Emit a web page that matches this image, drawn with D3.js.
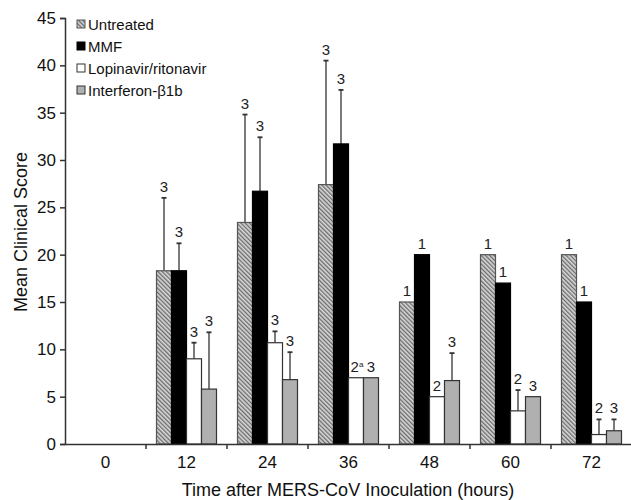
<!DOCTYPE html>
<html><head><meta charset="utf-8">
<script src="https://cdn.jsdelivr.net/npm/d3@7"></script>
<style>
body{margin:0;background:#fff;}
svg{display:block;font-family:"Liberation Sans",Arial,sans-serif;}
</style></head>
<body>
<svg id="chart" width="631" height="500"></svg>
<script>
const categories = ["0","12","24","36","48","60","72"];
const seriesNames = ["Untreated","MMF","Lopinavir/ritonavir","Interferon-β1b"];
const untreated = [null, 18.3, 23.4, 27.4, 15, 20, 20];
const untreatedErr = [null, 7.7, 11.4, 13.1, null, null, null];
const untreatedN = [null, "3", "3", "3", "1", "1", "1"];
const mmf = [null, 18.3, 26.7, 31.7, 20, 17, 15];
const mmfErr = [null, 2.9, 5.7, 5.7, null, null, null];
const mmfN = [null, "3", "3", "3", "1", "1", "1"];
const lopinavir = [null, 9.0, 10.7, 7.0, 5.0, 3.5, 1.0];
const lopinavirErr = [null, 1.7, 1.2, null, null, 2.2, 1.6];
const lopinavirN = [null, "3", "3", "2a", "2", "2", "2"];
const interferon = [null, 5.8, 6.8, 7.0, 6.7, 5.0, 1.4];
const interferonErr = [null, 6.0, 2.9, null, 2.9, null, 1.2];
const interferonN = [null, "3", "3", "3", "3", "3", "3"];
const yTicks = [0,5,10,15,20,25,30,35,40,45];

const svg = d3.select("#chart");
const defs = svg.append("defs");
const pat = defs.append("pattern").attr("id","hatch").attr("patternUnits","userSpaceOnUse")
  .attr("width",3).attr("height",10).attr("patternTransform","rotate(-45)");
pat.append("rect").attr("width",3).attr("height",10).attr("fill","#d8d8d8");
pat.append("rect").attr("width",1.3).attr("height",10).attr("fill","#6a6a6a");

const fills = ["url(#hatch)","#000","#fff","#b0b0b0"];
const strokes = ["#555","#000","#333","#333"];

const x0 = d3.scaleBand().domain(categories).range([65, 632]);
const x1 = d3.scaleBand().domain(seriesNames).range([0, 60]);
const groupOffset = (x0.bandwidth() - 60) / 2;
const y = d3.scaleLinear().domain([0,45]).range([444, 18]);

const series = [
  {name:seriesNames[0], vals:untreated, err:untreatedErr, n:untreatedN},
  {name:seriesNames[1], vals:mmf, err:mmfErr, n:mmfN},
  {name:seriesNames[2], vals:lopinavir, err:lopinavirErr, n:lopinavirN},
  {name:seriesNames[3], vals:interferon, err:interferonErr, n:interferonN}
];

const rows = [];
series.forEach((s,si)=>{
  categories.forEach((c,ci)=>{
    if (s.vals[ci] != null) rows.push({cat:c, si, name:s.name, v:s.vals[ci], e:s.err[ci], n:s.n[ci]});
  });
});
const bx = d => x0(d.cat) + groupOffset + x1(d.name);

// error bars (behind bars)
const eb = svg.append("g").attr("stroke","#333").attr("stroke-width",1.3);
rows.filter(d=>d.e!=null).forEach(d=>{
  const cx = bx(d) + x1.bandwidth()/2;
  eb.append("line").attr("x1",cx).attr("x2",cx).attr("y1",y(d.v)).attr("y2",y(d.v+d.e));
  eb.append("line").attr("x1",cx-2.5).attr("x2",cx+2.5).attr("y1",y(d.v+d.e)).attr("y2",y(d.v+d.e)).attr("stroke-width",1.8);
});

svg.append("g").selectAll("rect").data(rows).join("rect")
  .attr("x", bx).attr("width", x1.bandwidth())
  .attr("y", d=>y(d.v)).attr("height", d=>y(0)-y(d.v))
  .attr("fill", d=>fills[d.si]).attr("stroke", d=>strokes[d.si]).attr("stroke-width",1.2);

// n labels
const lab = svg.append("g").attr("font-size",15).attr("fill","#222").attr("text-anchor","middle");
rows.forEach(d=>{
  const top = d.e!=null ? y(d.v+d.e) : y(d.v);
  const t = lab.append("text").attr("x", bx(d)+x1.bandwidth()/2).attr("y", top-6);
  if (d.n === "2a") {
    t.attr("x", bx(d)+x1.bandwidth()/2 + 1);
    t.append("tspan").text("2");
    t.append("tspan").text("a").attr("font-size",8).attr("dy",-5);
  } else t.text(d.n);
});

// axes
const yAxis = d3.axisLeft(y).tickValues(yTicks).tickSize(5).tickPadding(4);
const gy = svg.append("g").attr("transform","translate(65,0)").call(yAxis);
gy.selectAll("text").attr("font-size",17).attr("fill","#111").attr("font-family","Liberation Sans, Arial, sans-serif");
gy.selectAll("line,path").attr("stroke","#333").attr("stroke-width",1.5);

const xAxis = d3.axisBottom(x0).tickSize(0).tickPadding(12);
const gx = svg.append("g").attr("transform","translate(0,444)").call(xAxis);
gx.select(".domain").attr("stroke","#333").attr("stroke-width",1.5);
gx.selectAll("text").attr("font-size",17).attr("fill","#111").attr("font-family","Liberation Sans, Arial, sans-serif");
gx.selectAll(".sep").data(categories.slice(1)).join("line").attr("class","sep")
  .attr("x1",d=>x0(d)).attr("x2",d=>x0(d)).attr("y1",0).attr("y2",5)
  .attr("stroke","#333").attr("stroke-width",1.5);

svg.append("text").attr("x",348).attr("y",496).attr("text-anchor","middle")
  .attr("font-size",18).attr("fill","#111").text("Time after MERS-CoV Inoculation (hours)");
svg.append("text").attr("transform","translate(27,232) rotate(-90)").attr("text-anchor","middle")
  .attr("font-size",18).attr("fill","#111").text("Mean Clinical Score");

// legend
const lg = svg.append("g").attr("transform","translate(77,24)");
seriesNames.forEach((s,i)=>{
  const g = lg.append("g").attr("transform",`translate(0,${i*22})`);
  g.append("rect").attr("x",0).attr("y",-4).attr("width",8).attr("height",8)
    .attr("fill",fills[i]).attr("stroke",strokes[i]).attr("stroke-width",1);
  g.append("text").attr("x",11).attr("y",5.5).attr("font-size",15).attr("fill","#111").text(s);
});
</script>
</body></html>
